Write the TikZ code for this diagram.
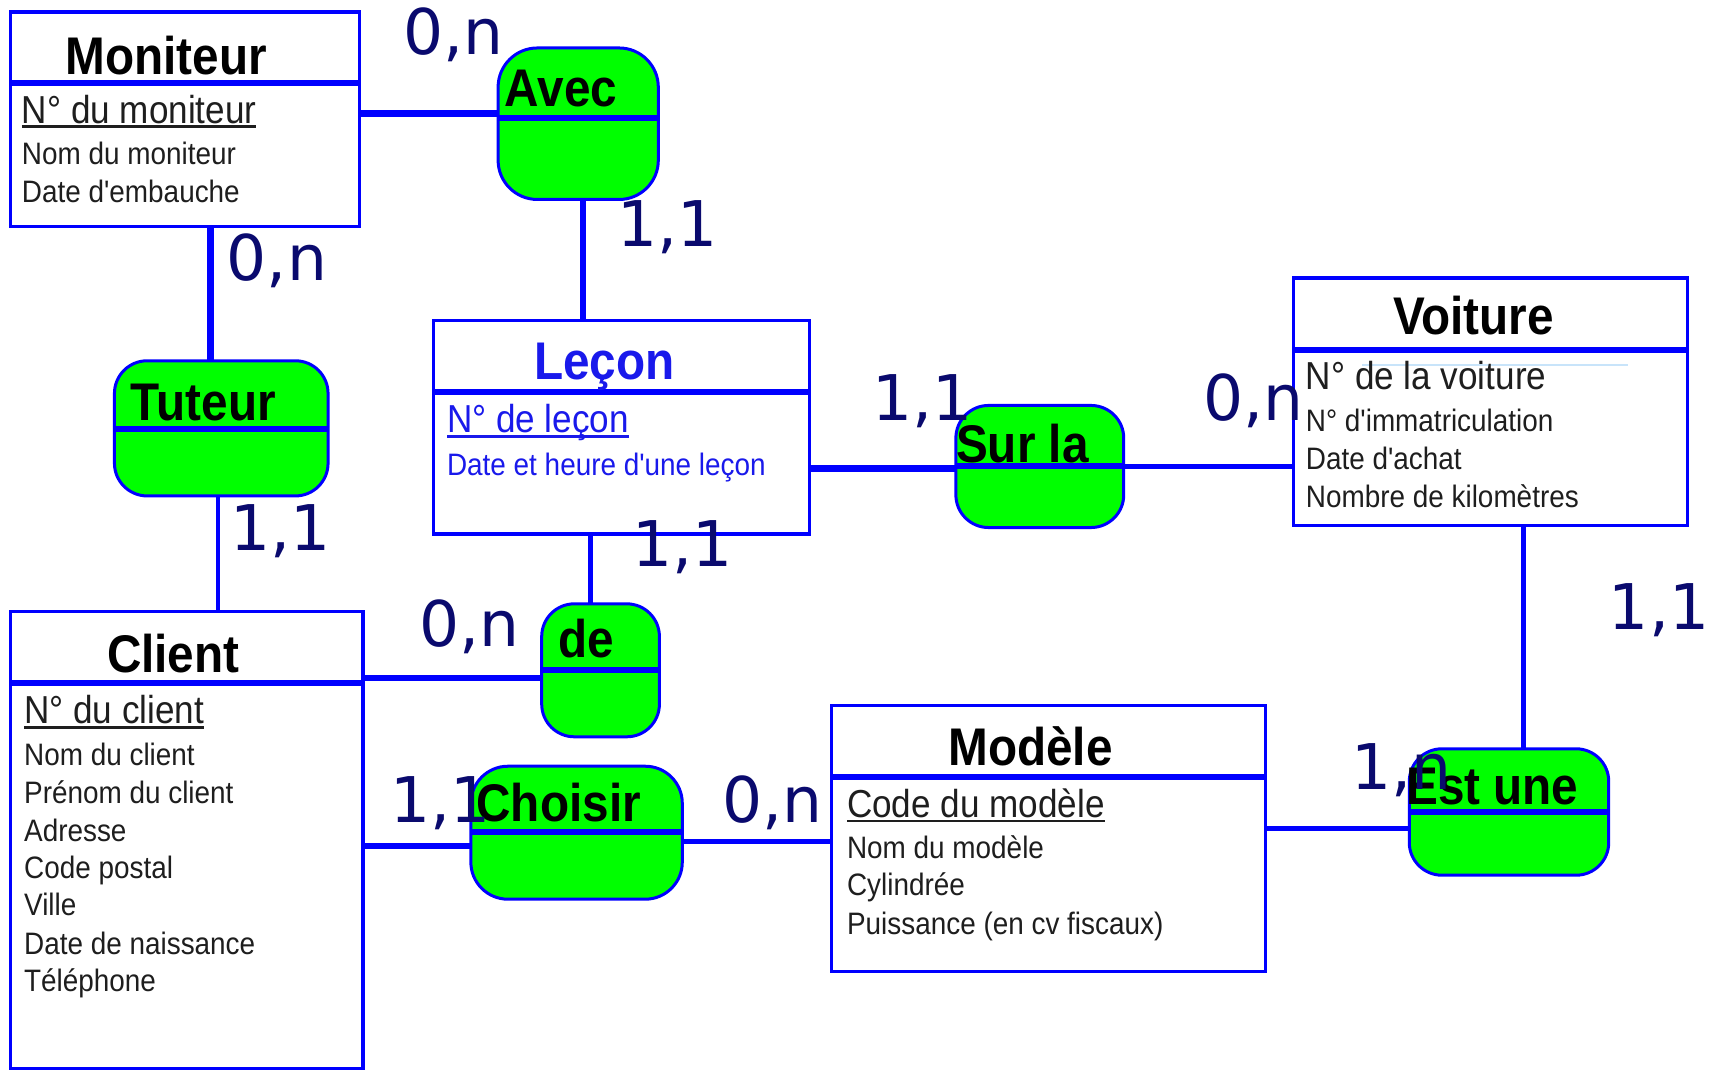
\documentclass[tikz,border=0pt]{standalone}
\usepackage{fontspec}
% plain family (no TeX ligatures), so apostrophes stay straight
\newfontfamily\erfont{Liberation Sans}[FakeStretch=0.9]
\newfontfamily\cardfont{DejaVu Sans}
\usetikzlibrary{calc}

\definecolor{erblue}{RGB}{0,0,255}
\definecolor{ergreen}{RGB}{0,255,0}
\definecolor{cardnavy}{RGB}{10,10,110}
\definecolor{attrgray}{RGB}{30,30,30}
\definecolor{lecblue}{RGB}{25,25,235}
\definecolor{faintblue}{RGB}{200,228,250}

% one drawing unit, as a length
\def\pxu{1.09pt}
% identifier attribute with a heavy underline
\newcommand\keyline[1]{\setbox0=\hbox{#1}\rlap{\rule[-5pt]{\wd0}{2.8pt}}\box0}

\begin{document}
\begin{tikzpicture}[x=1.09pt,y=-1.09pt,
  entity/.style={draw=erblue,line width=3.2pt,fill=white,inner sep=0pt,outer sep=0pt,anchor=north west},
  relation/.style={draw=erblue,line width=3pt,fill=ergreen,inner sep=0pt,outer sep=0pt,anchor=north west,rounded corners=30*\pxu},
  divider/.style={draw=erblue,line width=6pt},
  link/.style={draw=erblue,line width=6.5pt},
  thinlink/.style={draw=erblue,line width=4.5pt},
  etitle/.style={anchor=base west,font=\erfont\fontsize{53}{53}\selectfont\bfseries,inner sep=0pt},
  rlabel/.style={anchor=base west,font=\erfont\fontsize{53}{53}\selectfont\bfseries,inner sep=0pt},
  attr/.style={anchor=base west,font=\erfont\fontsize{31}{31}\selectfont,text=attrgray,inner sep=0pt},
  keyattr/.style={anchor=base west,font=\erfont\fontsize{39}{39}\selectfont,text=attrgray,inner sep=0pt},
  card/.style={anchor=base west,font=\cardfont\fontsize{63}{63}\selectfont,text=cardnavy,inner sep=0pt},
]
\fill[white] (0,0) rectangle (1568,982);
\path[use as bounding box] (0,0) rectangle (1568,982);

% ---------- entities ----------
\node[entity,minimum width=320*\pxu,minimum height=197*\pxu] (moniteur) at (10,11) {};
\node[entity,minimum width=345*\pxu,minimum height=196*\pxu] (lecon) at (398,294) {};
\node[entity,minimum width=361*\pxu,minimum height=227*\pxu] (voiture) at (1187,255) {};
\node[entity,minimum width=323*\pxu,minimum height=419*\pxu] (client) at (10,561) {};
\node[entity,minimum width=398*\pxu,minimum height=244*\pxu] (modele) at (763,647) {};

\foreach \e/\d in {moniteur/65,lecon/66,voiture/66,client/66,modele/66}
  \draw[divider] ([yshift=-\d*\pxu]\e.north west) -- ([yshift=-\d*\pxu]\e.north east);

% ---------- relations ----------
\node[relation,minimum width=147*\pxu,minimum height=139*\pxu,rounded corners=36*\pxu] (avec) at (457,44) {};
\node[relation,minimum width=196*\pxu,minimum height=124*\pxu] (tuteur) at (105,331) {};
\node[relation,minimum width=154*\pxu,minimum height=112*\pxu] (surla) at (877,372) {};
\node[relation,minimum width=108*\pxu,minimum height=122*\pxu] (de) at (497,554) {};
\node[relation,minimum width=194*\pxu,minimum height=122*\pxu,rounded corners=34*\pxu] (choisir) at (432,703) {};
\node[relation,minimum width=183*\pxu,minimum height=116*\pxu] (estune) at (1293,687) {};

\foreach \r/\d in {avec/64,tuteur/63,surla/56,de/61,choisir/60,estune/58}
  \draw[divider] ([yshift=-\d*\pxu]\r.north west) -- ([yshift=-\d*\pxu]\r.north east);

% ---------- connectors ----------
\coordinate (yMA) at (0,104);
\coordinate (xMT) at (193,0);
\coordinate (xAL) at (535,0);
\coordinate (xTC) at (200,0);
\coordinate (xLD) at (542,0);
\coordinate (yLS) at (0,430);
\coordinate (ySV) at (0,428);
\coordinate (xVE) at (1398,0);
\coordinate (yCD) at (0,622);
\coordinate (yCC) at (0,776);
\coordinate (yCM) at (0,772);
\coordinate (yME) at (0,760);

\draw[link] (yMA -| moniteur.east) -- (yMA -| avec.west);
\draw[link] (xMT |- moniteur.south) -- (xMT |- tuteur.north);
\draw[link] (xAL |- avec.south) -- (xAL |- lecon.north);
\draw[thinlink] (xTC |- tuteur.south) -- (xTC |- client.north);
\draw[thinlink] (xLD |- lecon.south) -- (xLD |- de.north);
\draw[link] (yLS -| lecon.east) -- (yLS -| surla.west);
\draw[thinlink] (ySV -| surla.east) -- (ySV -| voiture.west);
\draw[thinlink] (xVE |- voiture.south) -- (xVE |- estune.north);
\draw[link] (yCD -| client.east) -- (yCD -| de.west);
\draw[link] (yCC -| client.east) -- (yCC -| choisir.west);
\draw[thinlink] (yCM -| choisir.east) -- (yCM -| modele.west);
\draw[thinlink] (yME -| modele.east) -- (yME -| estune.west);

% faint rule across the first Voiture attribute
\draw[faintblue,line width=1.5pt] (1250,335) -- (1494,335);

% ---------- entity texts ----------
\node[etitle] (tmon) at (60,68) {Moniteur};
\node[keyattr] (amon1) at (20,113) {\keyline{N° du moniteur}};
\node[attr] (amon2) at (20,151) {Nom du moniteur};
\node[attr] (amon3) at (20,186) {Date d'embauche};

\node[etitle,text=lecblue] (tlec) at (490,348) {Leçon};
\node[keyattr,text=lecblue] (alec1) at (410,397) {\keyline{N° de leçon}};
\node[attr,text=lecblue] (alec2) at (410,436) {Date et heure d'une leçon};

\node[etitle] (tvoi) at (1278,307) {Voiture};
\node[keyattr] (avoi1) at (1198,357) {N° de la voiture};
\node[attr] (avoi2) at (1198,396) {N° d'immatriculation};
\node[attr] (avoi3) at (1198,431) {Date d'achat};
\node[attr] (avoi4) at (1198,466) {Nombre de kilomètres};

\node[etitle] (tcli) at (98,617) {Client};
\node[keyattr] (acli1) at (22,664) {\keyline{N° du client}};
\node[attr] (acli2) at (22,702) {Nom du client};
\node[attr] (acli3) at (22,737) {Prénom du client};
\node[attr] (acli4) at (22,772) {Adresse};
\node[attr] (acli5) at (22,806) {Code postal};
\node[attr] (acli6) at (22,840) {Ville};
\node[attr] (acli7) at (22,876) {Date de naissance};
\node[attr] (acli8) at (22,910) {Téléphone};

\node[etitle] (tmod) at (870,702) {Modèle};
\node[keyattr] (amod1) at (777,750) {\keyline{Code du modèle}};
\node[attr] (amod2) at (777,788) {Nom du modèle};
\node[attr] (amod3) at (777,822) {Cylindrée};
\node[attr] (amod4) at (777,857) {Puissance (en cv fiscaux)};

% ---------- relation names ----------
\node[rlabel] (lavec) at (463,98) {Avec};
\node[rlabel] (ltut) at (120,386) {Tuteur};
\node[rlabel] (lsur) at (877,424) {Sur la};
\node[rlabel] (lde) at (512,603) {de};
\node[rlabel] (lcho) at (437,754) {Choisir};
\node[rlabel] (lest) at (1290,738) {Est une};

% ---------- cardinalities ----------
\node[card] (c1) at (370,50) {0,n};
\node[card] (c2) at (208,257) {0,n};
\node[card] (c3) at (566,226) {1,1};
\node[card] (c4) at (211,505) {1,1};
\node[card] (c5) at (580,520) {1,1};
\node[card] (c6) at (800,386) {1,1};
\node[card] (c7) at (1104,386) {0,n};
\node[card] (c8) at (1476,578) {1,1};
\node[card] (c9) at (385,593) {0,n};
\node[card] (c10) at (358,755) {1,1};
\node[card] (c11) at (663,755) {0,n};
\node[card] (c12) at (1240,724) {1,n};
\end{tikzpicture}
\end{document}
